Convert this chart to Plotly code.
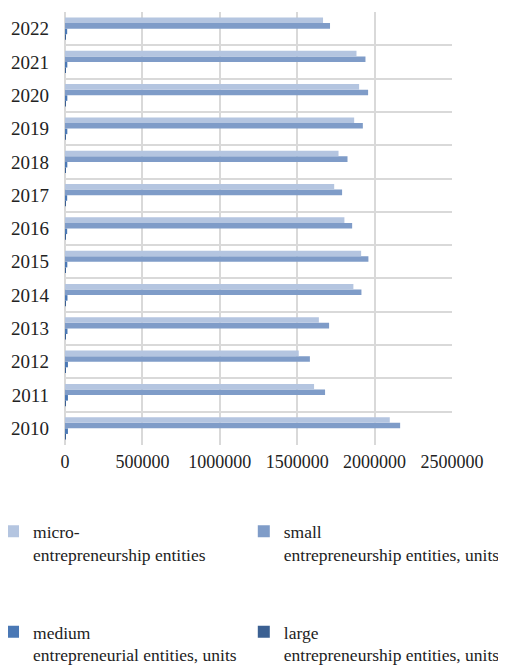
import plotly.graph_objects as go

years = [2010, 2011, 2012, 2013, 2014, 2015, 2016, 2017, 2018, 2019, 2020, 2021, 2022]
micro = [2098000, 1609000, 1510000, 1640000, 1863000, 1913000, 1805000, 1739000, 1767000, 1868000, 1900000, 1883000, 1667000]
small = [2165000, 1680000, 1582000, 1706000, 1915000, 1960000, 1855000, 1790000, 1825000, 1924000, 1958000, 1941000, 1712000]
medium = [19000, 19000, 19000, 16000, 16000, 15000, 14000, 14000, 15000, 15000, 15000, 15000, 14000]
large = [3500, 3400, 3300, 3300, 3400, 3500, 3400, 3400, 3500, 3600, 3600, 3600, 3500]
x_ticks = [0, 500000, 1000000, 1500000, 2000000, 2500000]

names = {
    "micro": "micro-<br>entrepreneurship entities",
    "small": "small<br>entrepreneurship entities, units",
    "medium": "medium<br>entrepreneurial entities, units",
    "large": "large<br>entrepreneurship entities, units",
}
colors = {"micro": "#B4C5E0", "small": "#7F9CC8", "medium": "#4A78B5", "large": "#3B6092"}
legend_of = {"micro": "legend", "medium": "legend", "small": "legend2", "large": "legend2"}
rank_of = {"micro": 1, "small": 1, "medium": 2, "large": 2}
series = [("large", large), ("medium", medium), ("small", small), ("micro", micro)]

fig = go.Figure()
for key, vals in series:
    fig.add_trace(go.Bar(
        y=years, x=vals, orientation="h", name=names[key],
        marker=dict(color=colors[key], line=dict(width=0)),
        legend=legend_of[key], legendgroup=key, legendrank=rank_of[key],
    ))

legend_common = dict(
    orientation="v", traceorder="grouped", valign="top",
    yanchor="top", xanchor="left", tracegroupgap=52,
    font=dict(family="Liberation Serif", size=17.5, color="#222222"),
    bgcolor="rgba(0,0,0,0)",
)

fig.update_layout(
    width=506, height=667,
    margin=dict(l=57, r=62, t=4, b=230, autoexpand=False),
    paper_bgcolor="white", plot_bgcolor="white",
    barmode="group", bargap=0.33, bargroupgap=0,
    font=dict(family="Liberation Serif", size=18, color="#222222"),
    xaxis=dict(
        range=[0, 2500000], tickvals=x_ticks, ticktext=[str(v) for v in x_ticks],
        showgrid=True, gridcolor="#D9D9D9", gridwidth=1.6,
        zeroline=True, zerolinecolor="#D9D9D9", zerolinewidth=1.6,
        showline=False, ticks="",
        tickfont=dict(family="Liberation Serif", size=18, color="#222222"),
        ticklabelstandoff=4,
    ),
    yaxis=dict(
        range=[2009.5, 2022.5], tickvals=years, ticktext=[str(y) for y in years],
        showgrid=False, zeroline=False, ticks="",
        minor=dict(tick0=2009.5, dtick=1, showgrid=True, gridcolor="#D9D9D9", gridwidth=1.6, ticks=""),
        tickfont=dict(family="Liberation Serif", size=19, color="#222222"),
        ticklabelstandoff=15,
    ),
    legend=dict(x=-0.186, y=-0.158, **legend_common),
    legend2=dict(x=0.462, y=-0.158, **legend_common),
)

fig.write_html("out.html")
